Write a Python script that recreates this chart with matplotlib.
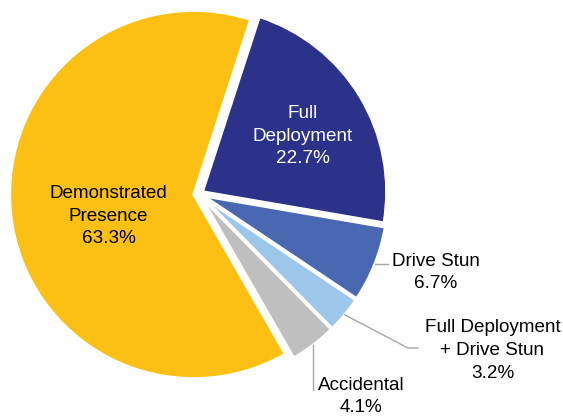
import numpy as np
import matplotlib
matplotlib.use("Agg")
import matplotlib.pyplot as plt
from matplotlib.font_manager import FontProperties

plt.rcParams['font.family'] = ['Liberation Sans', 'DejaVu Sans']

# data, in drawing order (clockwise from the top)
categories = ["Full\nDeployment", "Drive Stun", "Full Deployment\n+ Drive Stun",
              "Accidental", "Demonstrated\nPresence"]
shares = [22.7, 6.7, 3.2, 4.1, 63.3]
colors = ["#2C3189", "#4A68B1", "#9DC7EA", "#BFBFBF", "#FBC013"]

W, H = 563, 417
fig = plt.figure(figsize=(W / 100, H / 100), dpi=100)
ax = fig.add_axes([0, 0, 1, 1])

R = 184
cx, cy = 198.7, H - 194

# explode is in data units here (pixels)
wedges, _ = ax.pie(shares, colors=colors, startangle=72, counterclock=False,
                   center=(cx, cy), radius=R, explode=[4.5, 5.5, 5.5, 5.5, 5.0],
                   frame=True,
                   wedgeprops=dict(edgecolor="white", linewidth=2))

ax.set_xlim(0, W)
ax.set_ylim(0, H)
ax.set_aspect("equal")
ax.axis("off")

fs = 13.6
# line pitch of about 22.5 px like the original
# (matplotlib puts (h-d)*linespacing + d between baselines)
rend = fig.canvas.get_renderer()
_, lh, ld = rend.get_text_width_height_descent(
    "lp", FontProperties(family=['Liberation Sans'], size=fs), ismath=False)
ls = (22.5 - ld) / (lh - ld)


def pct(v):
    return f"{v:.1f}%"


def edge_point(w, frac=0.5):
    # point on the outer arc, frac measured clockwise from the wedge start
    a = np.deg2rad(w.theta2 - frac * (w.theta2 - w.theta1))
    x0, y0 = w.center
    return x0 + w.r * np.cos(a), y0 + w.r * np.sin(a)


# labels inside the big slices
ax.text(303, H - 136, f"{categories[0]}\n{pct(shares[0])}", color="white",
        ha="center", va="center", fontsize=fs, linespacing=ls)
ax.text(108.5, H - 216, f"{categories[4]}\n{pct(shares[4])}", color="black",
        ha="center", va="center", fontsize=fs, linespacing=ls)

lc = "#A6A6A6"

# Drive Stun
p = edge_point(wedges[1])
ax.plot([p[0], 388], [p[1], p[1]], color=lc, lw=1)
ax.text(435.5, H - 272.5, f"{categories[1]}\n{pct(shares[1])}", ha="center",
        va="center", fontsize=fs, linespacing=ls)

# Full Deployment + Drive Stun
p = edge_point(wedges[2])
ax.plot([p[0], 408, 418], [p[1], H - 348, H - 348], color=lc, lw=1)
ax.text(492.5, H - 350.5, f"{categories[2]}\n{pct(shares[2])}", ha="center",
        va="center", fontsize=fs, linespacing=ls)

# Accidental
p = edge_point(wedges[3])
ax.plot([p[0], p[0]], [p[1], H - 390], color=lc, lw=1)
ax.text(361, H - 396.5, f"{categories[3]}\n{pct(shares[3])}", ha="center",
        va="center", fontsize=fs, linespacing=ls)

fig.savefig("out.png", dpi=100)
